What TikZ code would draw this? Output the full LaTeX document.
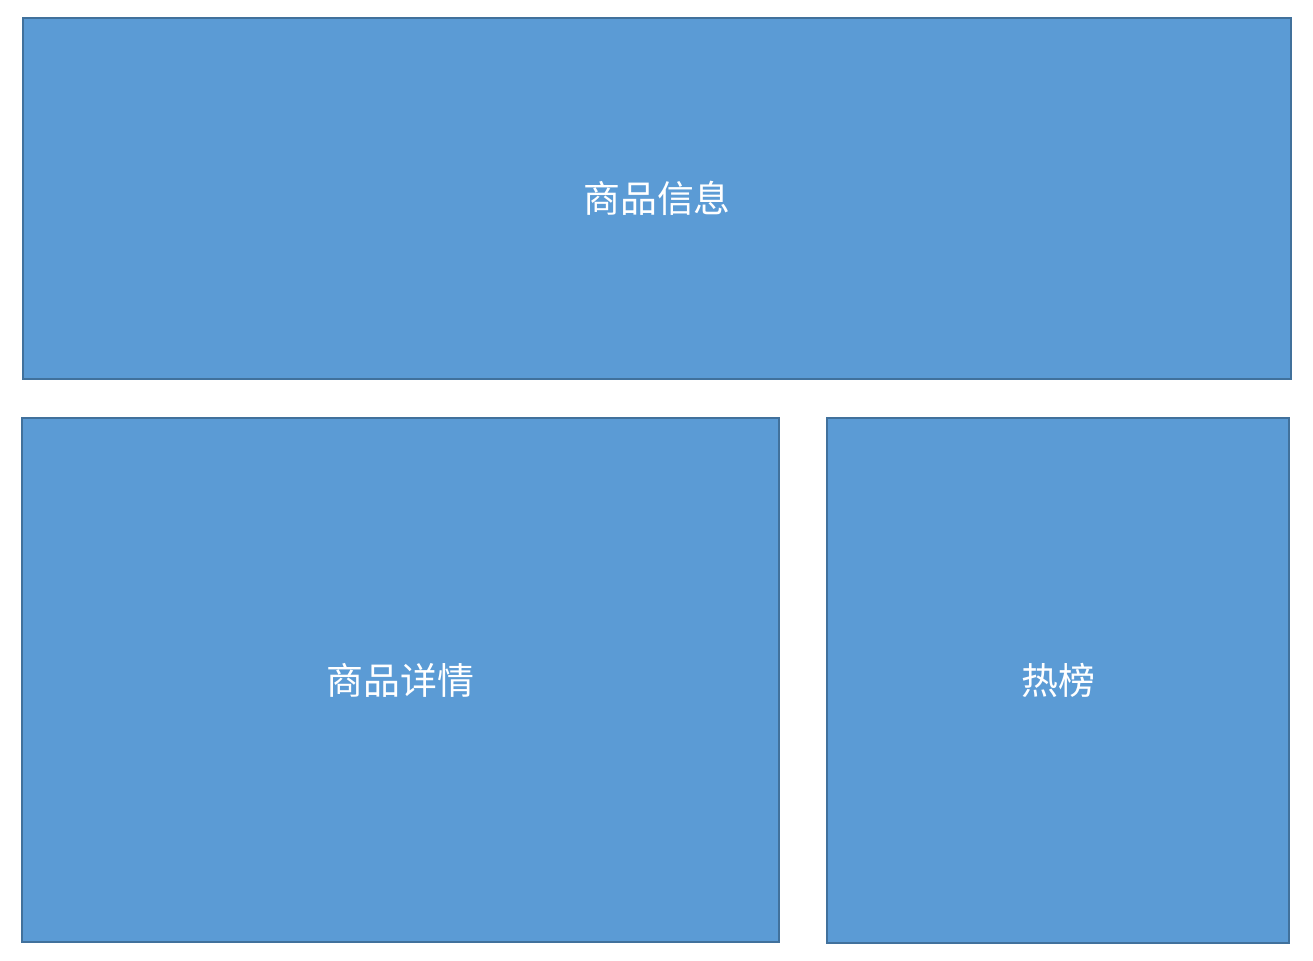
\documentclass[tikz,border=0pt]{standalone}
\usepackage{fontspec}
\newfontfamily\cjk{Noto Sans CJK SC}
\definecolor{boxfill}{HTML}{5B9BD5}
\definecolor{boxline}{HTML}{41719C}

\begin{document}
\begin{tikzpicture}[x=0.02cm, y=-0.02cm]
  \tikzset{panel/.style={draw=boxline, fill=boxfill, line width=1.2pt, inner sep=0pt,
    text=white, font=\cjk\fontsize{21}{25}\selectfont}}
  \useasboundingbox (0,0) rectangle (1313,961);
  % 上方整行
  \node[panel, minimum width=25.36cm, minimum height=7.22cm] (info) at (657,198.5) {商品信息};
  % 下方左右两块
  \node[panel, minimum width=15.14cm, minimum height=10.48cm] (detail) at (400.5,680) {商品详情};
  \node[panel, minimum width=9.24cm, minimum height=10.5cm] (hot) at (1058,680.5) {热榜};
\end{tikzpicture}
\end{document}
